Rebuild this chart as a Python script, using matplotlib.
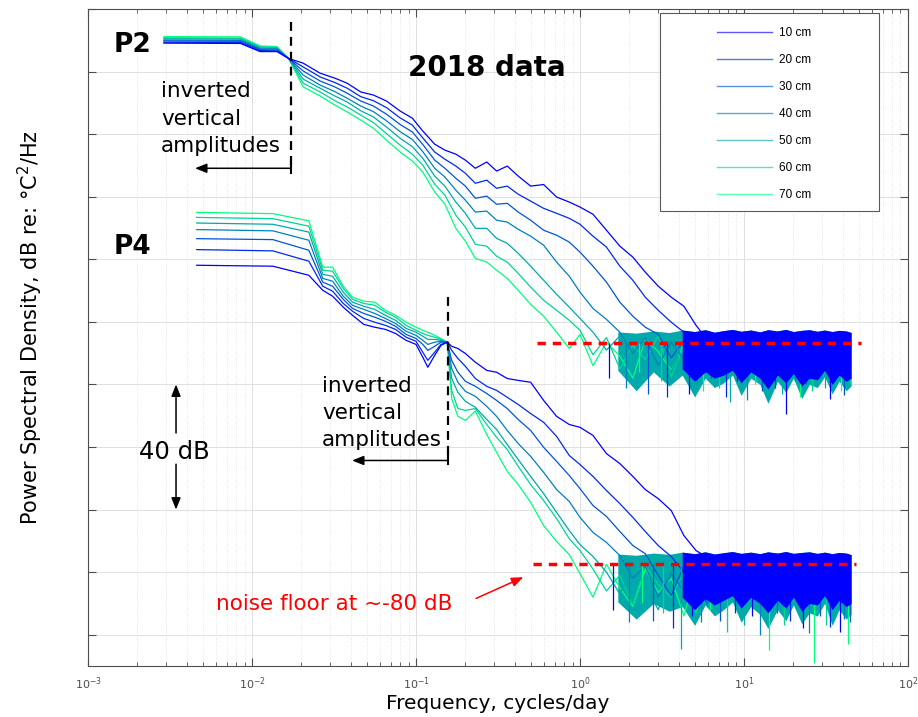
import numpy as np
import matplotlib.pyplot as plt
from matplotlib.lines import Line2D
from matplotlib.patches import Rectangle

depths = ['10 cm', '20 cm', '30 cm', '40 cm', '50 cm', '60 cm', '70 cm']

# P2 temperature spectra, dB re degC^2/Hz (shifted up for display)
f_p2 = [0.0029, 0.0085, 0.0112, 0.0142, 0.0167, 0.0205, 0.026, 0.032, 0.038, 0.046,
        0.055, 0.066, 0.08, 0.095, 0.11, 0.13, 0.15, 0.175, 0.2, 0.23,
        0.27, 0.31, 0.36, 0.42, 0.5, 0.6, 0.72, 0.86, 1.0, 1.2,
        1.45, 1.75, 2.1, 2.5, 3.0, 3.6, 4.3, 5.1, 6.0]
p2_10 = [89.1, 89.0, 86.4, 86.4, 84.2, 82.7, 79.5, 77.9, 76.3, 73.5,
         72.5, 70.6, 67.4, 65.1, 61.0, 56.8, 54.9, 53.6, 51.7, 49.1,
         51.1, 48.2, 49.8, 46.6, 43.4, 43.9, 39.9, 38.3, 36.7, 34.4,
         29.3, 24.2, 20.7, 15.9, 11.4, 7.9, 5.0, -1.1, -5.9]
p2_20 = [89.4, 89.3, 86.7, 86.6, 84.2, 81.5, 78.3, 76.5, 74.7, 72.0,
         70.7, 68.5, 65.2, 62.9, 58.8, 54.3, 52.0, 49.8, 47.5, 44.3,
         45.3, 42.7, 43.4, 40.8, 38.6, 36.3, 34.7, 33.1, 31.2, 27.4,
         23.9, 17.8, 13.3, 7.9, 3.7, -0.1, -3.3, -9.5, -5.0]
p2_30 = [89.8, 89.7, 87.0, 86.9, 84.2, 80.2, 77.0, 75.1, 73.1, 70.6,
         69.0, 66.4, 63.1, 60.7, 56.7, 51.7, 49.1, 45.9, 43.4, 39.5,
         40.2, 37.6, 37.9, 35.1, 32.5, 29.3, 27.7, 25.5, 22.3, 17.8,
         12.7, 6.3, 1.8, -1.7, -4.0, -11.5, -6.0, -13.0, -4.5]
p2_40 = [90.1, 90.0, 87.3, 87.2, 84.2, 78.9, 75.7, 73.6, 71.5, 69.0,
         67.2, 64.3, 60.8, 58.3, 54.4, 49.1, 46.3, 42.1, 38.9, 35.1,
         35.4, 32.5, 31.9, 29.6, 27.4, 24.5, 19.1, 14.6, 9.5, 4.3,
         0.8, -3.3, -10.0, -5.0, -14.0, -6.5, -12.0, -4.8, -10.5]
p2_50 = [90.5, 90.4, 87.6, 87.4, 84.2, 77.6, 74.7, 72.2, 70.3, 67.5,
         65.5, 62.3, 58.7, 56.0, 52.3, 46.6, 43.4, 38.3, 34.7, 29.9,
         29.9, 26.7, 25.1, 21.9, 17.8, 13.3, 8.8, 4.7, 1.1, -3.3,
         -9.0, -4.5, -13.5, -6.0, -11.0, -16.0, -5.5, -12.5, -7.0]
p2_60 = [90.8, 90.7, 87.9, 87.7, 84.2, 76.3, 73.5, 70.7, 68.7, 66.1,
         63.7, 60.2, 56.5, 53.6, 50.1, 44.0, 40.5, 34.1, 30.3, 24.8,
         24.2, 21.0, 19.1, 15.5, 11.1, 6.9, 3.7, 0.5, -2.7, -10.5,
         -5.0, -15.0, -7.5, -12.0, -4.5, -17.5, -8.0, -13.5, -6.0]
p2_70 = [91.2, 91.1, 88.2, 88.0, 84.2, 75.1, 72.2, 69.3, 67.1, 64.5,
         61.9, 58.1, 54.3, 51.4, 47.9, 41.5, 37.6, 29.9, 25.8, 20.3,
         19.1, 16.5, 13.9, 10.1, 5.6, 1.8, -3.3, -8.5, -4.0, -14.0,
         -6.5, -11.0, -18.0, -5.5, -9.5, -15.5, -7.0, -12.0, -16.5]

# P4 temperature spectra, dB re degC^2/Hz
f_p4 = [0.0046, 0.0134, 0.0222, 0.027, 0.031, 0.036, 0.041, 0.048, 0.056, 0.065,
        0.075, 0.087, 0.1, 0.11, 0.118, 0.13, 0.142, 0.155, 0.165, 0.18,
        0.2, 0.23, 0.27, 0.31, 0.36, 0.42, 0.5, 0.6, 0.72, 0.86,
        1.0, 1.2, 1.45, 1.75, 2.1, 2.5, 3.0, 3.6, 4.3, 5.1, 6.0]
p4_10 = [18.1, 17.8, 14.9, 10.1, 8.2, 4.7, 2.1, -0.8, -1.7, -2.4,
         -3.7, -5.9, -7.2, -11.3, -14.5, -10.7, -7.5, -6.5, -7.8, -8.5,
         -10.1, -12.9, -15.5, -16.1, -18.1, -18.7, -19.3, -25.1, -30.2, -32.8,
         -33.7, -36.3, -42.1, -45.3, -49.4, -53.6, -56.5, -60.3, -68.3, -73.1, -75.3]
p4_20 = [23.1, 22.7, 19.4, 11.4, 9.8, 5.9, 3.4, 1.1, -0.1, -1.1,
         -2.4, -4.9, -6.2, -9.7, -12.3, -9.7, -7.2, -6.5, -9.1, -11.7,
         -14.2, -18.1, -20.6, -21.9, -24.1, -26.4, -29.3, -32.1, -36.6, -42.7,
         -45.6, -49.4, -53.9, -58.1, -62.5, -67.0, -71.5, -75.0, -80.0, -86.0, -78.5]
p4_30 = [26.6, 26.3, 22.9, 12.7, 11.4, 7.2, 4.3, 2.7, 1.5, 0.2,
         -1.4, -4.0, -5.3, -7.2, -9.1, -7.8, -6.5, -6.5, -12.3, -16.1,
         -19.0, -20.6, -22.9, -25.1, -27.7, -31.2, -34.7, -40.1, -44.6, -49.1,
         -53.3, -58.7, -62.2, -67.0, -71.5, -74.1, -81.0, -87.5, -78.0, -84.0, -90.0]
p4_40 = [29.5, 29.1, 26.1, 13.9, 13.0, 8.2, 5.3, 4.0, 2.7, 1.1,
         -0.5, -3.0, -4.3, -5.9, -7.2, -6.5, -6.2, -6.5, -14.9, -19.3,
         -22.2, -23.8, -27.0, -30.2, -34.7, -38.9, -43.0, -48.1, -53.6, -57.4,
         -62.5, -67.3, -70.5, -74.7, -82.0, -78.0, -88.0, -80.5, -86.0, -79.0, -91.0]
p4_50 = [31.6, 31.2, 28.7, 15.2, 14.6, 9.5, 6.3, 5.0, 4.0, 2.1,
         0.5, -2.1, -3.3, -4.6, -5.6, -5.6, -5.9, -6.5, -18.1, -22.5,
         -25.4, -27.3, -31.2, -34.4, -39.2, -44.0, -49.4, -54.9, -60.9, -66.7,
         -71.2, -75.0, -80.0, -87.0, -78.5, -84.5, -92.0, -79.5, -85.0, -81.0, -89.0]
p4_60 = [33.4, 33.0, 30.6, 16.5, 16.2, 10.7, 7.2, 5.9, 5.3, 3.1,
         1.5, -1.1, -2.7, -3.7, -4.3, -4.9, -5.6, -6.5, -21.9, -27.7,
         -28.3, -27.7, -32.8, -36.9, -40.8, -46.2, -52.0, -57.1, -62.9, -69.3,
         -73.1, -79.0, -86.0, -81.0, -90.5, -78.0, -84.0, -88.0, -80.0, -93.0, -82.0]
p4_70 = [35.0, 34.6, 32.3, 17.5, 17.5, 11.4, 7.9, 6.6, 6.3, 3.7,
         2.1, -0.1, -1.7, -2.7, -3.3, -4.3, -5.3, -6.5, -24.5, -30.2,
         -31.5, -28.5, -36.0, -41.7, -47.8, -52.0, -57.7, -65.1, -70.2, -74.4,
         -80.5, -88.0, -77.5, -85.0, -91.0, -79.0, -86.5, -82.0, -94.0, -80.0, -87.0]

p2_spectra = [p2_10, p2_20, p2_30, p2_40, p2_50, p2_60, p2_70]
p4_spectra = [p4_10, p4_20, p4_30, p4_40, p4_50, p4_60, p4_70]

# spread of the noise floor at high frequency
f_band = [1.0, 1.3, 1.7, 2.2, 2.8, 3.5, 4.2, 5.0, 5.8, 6.6,
          7.5, 8.5, 9.6, 11, 12.5, 14, 16, 18, 20, 22.5,
          25, 28, 31, 34.5, 38, 42, 45]
p2_band_top = [-4.5, -3.8, -3.2, -3.6, -2.9, -3.4, -2.6, -3.1, -2.5, -3.3,
               -2.8, -2.4, -3.0, -2.6, -3.2, -2.5, -2.9, -2.4, -3.1, -2.7,
               -2.5, -3.0, -2.6, -3.1, -2.7, -2.9, -3.4]
p2_band_low = [-14.0, -19.0, -15.5, -22.0, -16.0, -20.5, -17.0, -24.0, -18.0, -21.0,
               -19.5, -17.0, -23.5, -18.0, -20.0, -26.0, -19.0, -22.5, -18.0, -24.5,
               -20.0, -21.0, -17.5, -23.0, -19.0, -22.0, -20.5]
p2_blue_low = [-12.0, -15.0, -13.0, -16.5, -13.5, -16.0, -15.0, -19.0, -16.0, -18.0,
               -17.0, -15.5, -19.5, -16.0, -18.0, -21.5, -17.0, -19.5, -16.5, -20.5,
               -18.0, -18.5, -15.5, -20.0, -17.0, -19.0, -18.0]
p4_band_top = [-75.5, -74.8, -74.2, -74.6, -73.9, -74.3, -73.6, -74.1, -73.5, -74.2,
               -73.8, -73.4, -74.0, -73.6, -74.1, -73.5, -73.9, -73.4, -74.0, -73.7,
               -73.5, -74.0, -73.6, -74.1, -73.7, -73.9, -74.4]
p4_band_low = [-88.0, -93.0, -89.5, -95.0, -90.0, -92.5, -91.0, -97.0, -90.5, -94.0,
               -92.0, -89.5, -96.0, -91.0, -93.5, -98.0, -92.0, -95.5, -90.5, -96.5,
               -93.0, -94.0, -90.0, -97.0, -92.0, -95.0, -93.5]
p4_blue_low = [-86.0, -89.0, -87.0, -90.5, -88.0, -89.5, -88.0, -92.0, -88.5, -90.5,
               -89.0, -87.5, -91.5, -88.0, -90.0, -93.0, -89.0, -91.5, -88.0, -92.5,
               -90.0, -90.5, -87.5, -92.0, -89.0, -91.0, -90.0]

# dips reaching below the noise band
p2_spike_f = [1.5, 1.9, 2.3, 2.6, 3.1, 3.4, 3.9, 4.6, 5.2, 5.6, 6.3,
              7.0, 7.8, 8.2, 9.1, 10.5, 11.6, 12.8, 14.0, 15.5, 17.0,
              18.1, 20.5, 22.0, 24.0, 26.0, 28.5, 31.0, 33.5, 36.0, 39.0,
              41.0, 44.0]
p2_spike_db = [-18.0, -21.0, -16.0, -23.0, -19.0, -24.0, -17.0, -23.0, -20.0, -22.0, -18.0,
               -21.0, -24.0, -25.5, -19.0, -25.0, -20.0, -22.0, -18.0, -21.0, -23.0,
               -29.3, -19.0, -24.0, -20.0, -22.0, -18.0, -21.0, -24.5, -19.0, -22.0,
               -23.5, -20.0]
p4_spike_f = [1.6, 2.0, 2.4, 2.8, 3.2, 3.7, 4.1, 4.8, 5.5, 6.2, 7.1,
              7.9, 8.8, 10.0, 11.2, 12.5, 14.3, 16.0, 17.5, 19.0, 21.0,
              23.0, 25.0, 26.9, 29.0, 31.5, 33.5, 36.0, 38.5, 41.0, 43.0,
              44.5]
p4_spike_db = [-92.0, -96.0, -90.0, -95.5, -93.0, -98.0, -104.5, -94.0, -96.0, -92.0, -95.5,
               -99.0, -93.0, -97.0, -94.0, -100.0, -105.0, -93.0, -97.0, -95.5, -92.0,
               -98.0, -99.5, -109.0, -94.0, -97.0, -97.5, -93.0, -99.0, -95.0, -103.0,
               -96.0]

p2_floor = -6.8
p4_floor = -77.4

cols = plt.cm.winter(np.linspace(0, 1, 7))

fig = plt.figure(figsize=(9.18, 7.17), dpi=100)
ax = fig.add_axes([0.0959, 0.0711, 0.8932, 0.9163])
ax.set_xscale('log')
ax.set_xlim(1e-3, 1e2)
ax.set_ylim(-110, 100)

fb = np.array(f_band)
ax.fill_between(fb, p2_band_low, p2_band_top, where=fb >= 1.7, color=cols[4], lw=0, zorder=2.5)
ax.fill_between(fb, p4_band_low, p4_band_top, where=fb >= 1.7, color=cols[4], lw=0, zorder=2.5)

for i in reversed(range(7)):
    ax.plot(f_p2, p2_spectra[i], color=cols[i], lw=0.9, zorder=3)
    ax.plot(f_p4, p4_spectra[i], color=cols[i], lw=0.9, zorder=3)

ax.vlines(p2_spike_f, p2_floor, p2_spike_db,
          colors=[cols[(3 * k) % 7] for k in range(len(p2_spike_f))], lw=0.9, zorder=3.4)
ax.vlines(p4_spike_f, p4_floor, p4_spike_db,
          colors=[cols[(3 * k) % 7] for k in range(len(p4_spike_f))], lw=0.9, zorder=3.4)

ax.fill_between(fb, p2_blue_low, p2_band_top, where=fb >= 4.2, color=cols[0], lw=0, zorder=3.5)
ax.fill_between(fb, p4_blue_low, p4_band_top, where=fb >= 4.2, color=cols[0], lw=0, zorder=3.5)

# noise floor markers
ax.plot([0.55, 52], [p2_floor, p2_floor], color='red', lw=2.5, ls=(0, (2.4, 2.0)), zorder=6)
ax.plot([0.52, 48], [p4_floor, p4_floor], color='red', lw=2.5, ls=(0, (2.4, 2.0)), zorder=6)

# axes styling
ax.set_yticks(np.arange(-100, 101, 20))
ax.set_yticklabels([])
ax.set_xticks([1e-3, 1e-2, 1e-1, 1e0, 1e1, 1e2])
ax.tick_params(which='both', direction='in', top=True, right=True, colors='0.3')
ax.tick_params(which='major', length=6, width=0.8, labelsize=8, pad=7, labelcolor='0.3')
ax.tick_params(which='minor', length=3, width=0.6)
ax.grid(True, which='major', color='0.88', lw=0.7)
ax.grid(True, which='minor', axis='x', color='0.88', lw=0.6, ls=':')
ax.set_axisbelow(True)
for sp in ax.spines.values():
    sp.set_color('0.3')
    sp.set_linewidth(0.8)

ax.set_xlabel('Frequency, cycles/day', fontsize=14.5)
ax.set_ylabel('Power Spectral Density, dB re: °C$^2$/Hz', fontsize=15)
ax.xaxis.set_label_coords(0.5, -0.043)
ax.yaxis.set_label_coords(-0.052, 0.515)

# annotations
ax.text(0.00186, 86.4, 'P2', fontsize=19, fontweight='bold', ha='center', va='baseline', zorder=7)
ax.text(0.00186, 21.8, 'P4', fontsize=19, fontweight='bold', ha='center', va='baseline', zorder=7)
ax.text(0.269, 78.6, '2018 data', fontsize=20, fontweight='bold', ha='center', va='baseline', zorder=7)

for y, s in zip([71.8, 62.9, 54.35], ['inverted', 'vertical', 'amplitudes']):
    ax.text(0.00279, y, s, fontsize=15.5, ha='left', va='baseline', zorder=7)
for y, s in zip([-22.4, -31.0, -39.7], ['inverted', 'vertical', 'amplitudes']):
    ax.text(0.0267, y, s, fontsize=15.5, ha='left', va='baseline', zorder=7)

dash = (0, (4, 2.7))
ax.plot([0.0173, 0.0173], [95.9, 48.6], color='k', lw=1.6, ls=dash, zorder=7)
ax.plot([0.0173, 0.0173], [47.6, 50.6], color='k', lw=1.5, zorder=7)
ax.plot([0.157, 0.157], [7.9, -43.6], color='k', lw=1.6, ls=dash, zorder=7)
ax.plot([0.157, 0.157], [-45.5, -41.5], color='k', lw=1.5, zorder=7)

head = dict(arrowstyle='-|>,head_length=0.5,head_width=0.2', color='k', lw=1.1,
            mutation_scale=14, shrinkA=0, shrinkB=0)
ax.annotate('', xy=(0.00449, 49.1), xytext=(0.0173, 49.1), arrowprops=head, zorder=7)
ax.annotate('', xy=(0.0407, -44.3), xytext=(0.157, -44.3), arrowprops=head, zorder=7)

ax.annotate('', xy=(0.00344, -20), xytext=(0.00344, -35.5), arrowprops=head, zorder=7)
ax.annotate('', xy=(0.00344, -60), xytext=(0.00344, -45.5), arrowprops=head, zorder=7)
ax.text(0.00337, -43.7, '40 dB', fontsize=17.5, ha='center', va='baseline', zorder=7)

ax.text(0.00603, -92.2, 'noise floor at ~-80 dB', fontsize=15.5, color='red',
        ha='left', va='baseline', zorder=7)
red_head = dict(head, color='red', lw=1.1)
ax.annotate('', xy=(0.451, -81.6), xytext=(0.2323, -88.4), arrowprops=red_head, zorder=7)

# legend in its own box
ax.add_patch(Rectangle((0.6976, 0.6925), 0.267, 0.3014, transform=ax.transAxes,
                       facecolor='white', edgecolor='0.35', lw=0.8, zorder=8))
handles = [Line2D([], [], color=cols[i], lw=1.0, alpha=0.65) for i in range(7)]
leg = ax.legend(handles, depths, loc='upper left', bbox_to_anchor=(0.7671, 0.972),
                frameon=False, borderpad=0, borderaxespad=0, handlelength=4.66,
                handletextpad=0.58, labelspacing=1.27,
                prop={'family': 'Liberation Sans', 'size': 8.5})
leg.set_zorder(9)

fig.savefig('out.png', dpi=100)
